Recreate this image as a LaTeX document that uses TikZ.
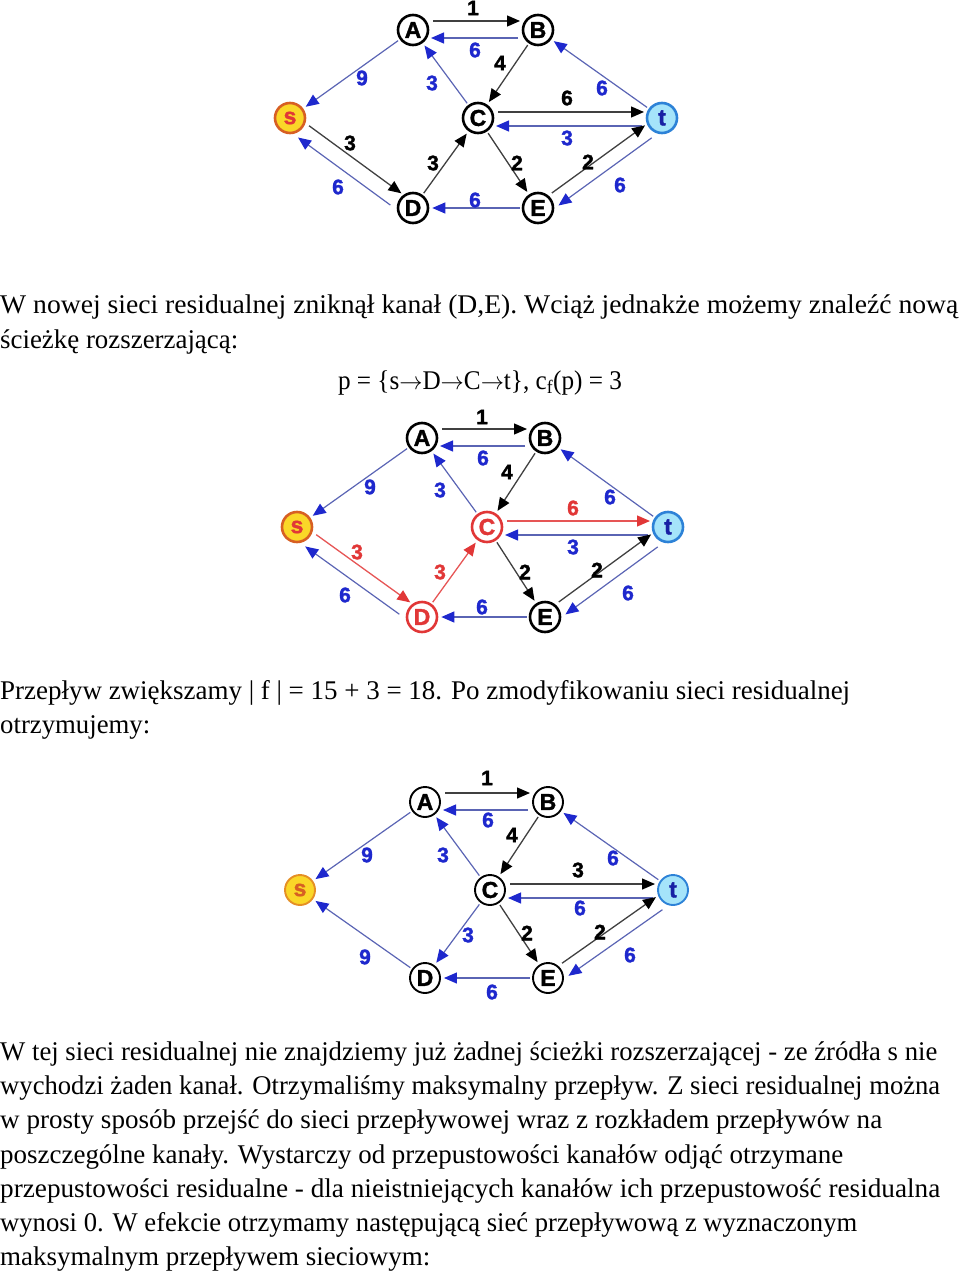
\documentclass[tikz,border=0pt]{standalone}
\usepackage{fontspec}
\setmainfont{Liberation Serif}
\newfontfamily\graphfont[FakeBold=1.6]{Liberation Sans Bold}
\usetikzlibrary{arrows.meta,calc}

\definecolor{resblue}{RGB}{30,40,205}
\definecolor{resline}{RGB}{90,100,180}
\definecolor{pathred}{RGB}{225,55,55}
\definecolor{sfill}{RGB}{250,215,40}
\definecolor{sborder}{RGB}{215,95,35}
\definecolor{tfill}{RGB}{165,228,250}
\definecolor{tborder}{RGB}{45,130,215}

\tikzset{
  vert/.style={circle,draw=black,line width=2.6pt,fill=white,minimum size=30pt,inner sep=0pt,
    font=\graphfont\fontsize{23}{23}\selectfont},
  redvert/.style={vert,draw=pathred,text=pathred},
  src/.style={vert,draw=sborder,fill=sfill,text=pathred},
  snk/.style={vert,draw=tborder,fill=tfill,text=resblue!80!black},
  kedge/.style={draw=black!75,line width=1.3pt,-{Triangle[length=13pt,width=11pt,color=black]},
    shorten <=2pt,shorten >=3pt},
  bedge/.style={draw=resline,line width=1.2pt,-{Triangle[length=13pt,width=11pt,color=resblue]},
    shorten <=2pt,shorten >=3pt},
  redge/.style={draw=pathred!85,line width=1.3pt,-{Triangle[length=13pt,width=11pt,color=pathred]},
    shorten <=2pt,shorten >=3pt},
  side/.style={shorten <=20pt,shorten >=18pt,
    to path={($(\tikztostart)!#1!90:(\tikztotarget)$) -- ($(\tikztotarget)!#1!-90:(\tikztostart)$)}},
  lbl/.style={inner sep=0pt,font=\graphfont\fontsize{21}{21}\selectfont},
  klbl/.style={lbl,text=black},
  blbl/.style={lbl,text=resblue},
  rlbl/.style={lbl,text=pathred},
  para/.style={anchor=base west,inner sep=0pt,font=\fontsize{27}{34}\selectfont}
}

\begin{document}
\begin{tikzpicture}[x=1pt,y=-1pt]
  \useasboundingbox (0,0) rectangle (960,1273);

  % residual network after the second path
  \begin{scope}[shift={(478,118)}]
    \node[vert] (A1) at (-65,-88) {A};
    \node[vert] (B1) at (60,-88) {B};
    \node[src] (s1) at (-188,0) {s};
    \node[vert] (C1) at (0,0) {C};
    \node[snk] (t1) at (184,0) {t};
    \node[vert] (D1) at (-65,90) {D};
    \node[vert] (E1) at (60,90) {E};

    \draw[kedge,side=9pt] (A1) to (B1);
    \draw[bedge,side=8pt] (B1) to (A1);
    \draw[bedge] (A1) -- (s1);
    \draw[bedge] (C1) -- (A1);
    \draw[kedge] (B1) -- (C1);
    \draw[bedge] (t1) -- (B1);
    \draw[kedge,side=6pt] (C1) to (t1);
    \draw[bedge,side=8pt] (t1) to (C1);
    \draw[kedge,side=5pt] (s1) to (D1);
    \draw[bedge,side=11pt] (D1) to (s1);
    \draw[kedge] (D1) -- (C1);
    \draw[kedge] (C1) -- (E1);
    \draw[bedge] (E1) -- (D1);
    \draw[kedge,side=4pt] (E1) to (t1);
    \draw[bedge,side=10pt] (t1) to (E1);

    \node[klbl] (AB1) at (-5,-110) {1};
    \node[blbl] (BA1) at (-3,-68) {6};
    \node[blbl] (As1) at (-116,-40) {9};
    \node[blbl] (CA1) at (-46,-35) {3};
    \node[klbl] (BC1) at (22,-55) {4};
    \node[blbl] (tB1) at (124,-30) {6};
    \node[klbl] (Ct1) at (89,-20) {6};
    \node[blbl] (tC1) at (89,20) {3};
    \node[klbl] (sD1) at (-128,25) {3};
    \node[blbl] (Ds1) at (-140,69) {6};
    \node[klbl] (DC1) at (-45,45) {3};
    \node[klbl] (CE1) at (39,45) {2};
    \node[blbl] (ED1) at (-3,82) {6};
    \node[klbl] (Et1) at (110,44) {2};
    \node[blbl] (tE1) at (142,67) {6};
  \end{scope}

  \node[para] (par1a) at (0,313) {\resizebox{958pt}{\height}{W nowej sieci residualnej zniknął kanał (D,E). Wciąż jednakże możemy znaleźć nową}};
  \node[para] (par1b) at (0,348) {\resizebox{238pt}{\height}{ścieżkę rozszerzającą:}};
  \node[para,anchor=base] (path) at (480,389) {\resizebox{284pt}{\height}{p = \{s$\rightarrow$D$\rightarrow$C$\rightarrow$t\}, c\textsubscript{f}(p) = 3}};

  % augmenting path s-D-C-t in red
  \begin{scope}[shift={(487,527)}]
    \node[vert] (A2) at (-65,-89) {A};
    \node[vert] (B2) at (58,-89) {B};
    \node[src] (s2) at (-190,0) {s};
    \node[redvert] (C2) at (0,0) {C};
    \node[snk] (t2) at (181,0) {t};
    \node[redvert] (D2) at (-65,90) {D};
    \node[vert] (E2) at (58,90) {E};

    \draw[kedge,side=9pt] (A2) to (B2);
    \draw[bedge,side=8pt] (B2) to (A2);
    \draw[bedge] (A2) -- (s2);
    \draw[bedge] (C2) -- (A2);
    \draw[kedge] (B2) -- (C2);
    \draw[bedge] (t2) -- (B2);
    \draw[redge,side=6pt] (C2) to (t2);
    \draw[bedge,side=8pt] (t2) to (C2);
    \draw[redge,side=5pt] (s2) to (D2);
    \draw[bedge,side=11pt] (D2) to (s2);
    \draw[redge] (D2) -- (C2);
    \draw[kedge] (C2) -- (E2);
    \draw[bedge] (E2) -- (D2);
    \draw[kedge,side=4pt] (E2) to (t2);
    \draw[bedge,side=10pt] (t2) to (E2);

    \node[klbl] (AB2) at (-5,-110) {1};
    \node[blbl] (BA2) at (-4,-69) {6};
    \node[blbl] (As2) at (-117,-40) {9};
    \node[blbl] (CA2) at (-47,-37) {3};
    \node[klbl] (BC2) at (20,-55) {4};
    \node[blbl] (tB2) at (123,-30) {6};
    \node[rlbl] (Ct2) at (86,-19) {6};
    \node[blbl] (tC2) at (86,20) {3};
    \node[rlbl] (sD2) at (-130,25) {3};
    \node[blbl] (Ds2) at (-142,68) {6};
    \node[rlbl] (DC2) at (-47,45) {3};
    \node[klbl] (CE2) at (38,45) {2};
    \node[blbl] (ED2) at (-5,80) {6};
    \node[klbl] (Et2) at (110,43) {2};
    \node[blbl] (tE2) at (141,66) {6};
  \end{scope}

  \node[para] (par2a) at (0,699) {\resizebox{850pt}{\height}{Przepływ zwiększamy | f | = 15 + 3 = 18. Po zmodyfikowaniu sieci residualnej}};
  \node[para] (par2b) at (0,733) {\resizebox{150pt}{\height}{otrzymujemy:}};

  % final residual network
  \begin{scope}[shift={(490,890)},vert/.append style={line width=1.9pt}]
    \node[vert] (A3) at (-65,-88) {A};
    \node[vert] (B3) at (58,-88) {B};
    \node[src,draw=sborder!60!sfill,text=sborder] (s3) at (-190,0) {s};
    \node[vert] (C3) at (0,0) {C};
    \node[snk] (t3) at (183,0) {t};
    \node[vert] (D3) at (-65,88) {D};
    \node[vert] (E3) at (58,88) {E};

    \draw[kedge,side=9pt] (A3) to (B3);
    \draw[bedge,side=8pt] (B3) to (A3);
    \draw[bedge] (A3) -- (s3);
    \draw[bedge] (C3) -- (A3);
    \draw[kedge] (B3) -- (C3);
    \draw[bedge] (t3) -- (B3);
    \draw[kedge,side=6pt] (C3) to (t3);
    \draw[bedge,side=8pt] (t3) to (C3);
    \draw[bedge] (C3) -- (D3);
    \draw[bedge] (D3) -- (s3);
    \draw[kedge] (C3) -- (E3);
    \draw[bedge] (E3) -- (D3);
    \draw[kedge,side=4pt] (E3) to (t3);
    \draw[bedge,side=10pt] (t3) to (E3);

    \node[klbl] (AB3) at (-3,-112) {1};
    \node[blbl] (BA3) at (-2,-70) {6};
    \node[blbl] (As3) at (-123,-35) {9};
    \node[blbl] (CA3) at (-47,-35) {3};
    \node[klbl] (BC3) at (22,-55) {4};
    \node[blbl] (tB3) at (123,-32) {6};
    \node[klbl] (Ct3) at (88,-20) {3};
    \node[blbl] (tC3) at (90,18) {6};
    \node[blbl] (CD3) at (-22,45) {3};
    \node[blbl] (Ds3) at (-125,67) {9};
    \node[klbl] (CE3) at (37,43) {2};
    \node[blbl] (ED3) at (2,102) {6};
    \node[klbl] (Et3) at (110,42) {2};
    \node[blbl] (tE3) at (140,65) {6};
  \end{scope}

  \node[para] (par3a) at (0,1060) {\resizebox{937pt}{\height}{W tej sieci residualnej nie znajdziemy już żadnej ścieżki rozszerzającej - ze źródła s nie}};
  \node[para] (par3b) at (0,1094) {\resizebox{940pt}{\height}{wychodzi żaden kanał. Otrzymaliśmy maksymalny przepływ. Z sieci residualnej można}};
  \node[para] (par3c) at (0,1128) {\resizebox{882pt}{\height}{w prosty sposób przejść do sieci przepływowej wraz z rozkładem przepływów na}};
  \node[para] (par3d) at (0,1163) {\resizebox{843pt}{\height}{poszczególne kanały. Wystarczy od przepustowości kanałów odjąć otrzymane}};
  \node[para] (par3e) at (0,1197) {\resizebox{940pt}{\height}{przepustowości residualne - dla nieistniejących kanałów ich przepustowość residualna}};
  \node[para] (par3f) at (0,1231) {\resizebox{857pt}{\height}{wynosi 0. W efekcie otrzymamy następującą sieć przepływową z wyznaczonym}};
  \node[para] (par3g) at (0,1265) {\resizebox{430pt}{\height}{maksymalnym przepływem sieciowym:}};
\end{tikzpicture}
\end{document}
